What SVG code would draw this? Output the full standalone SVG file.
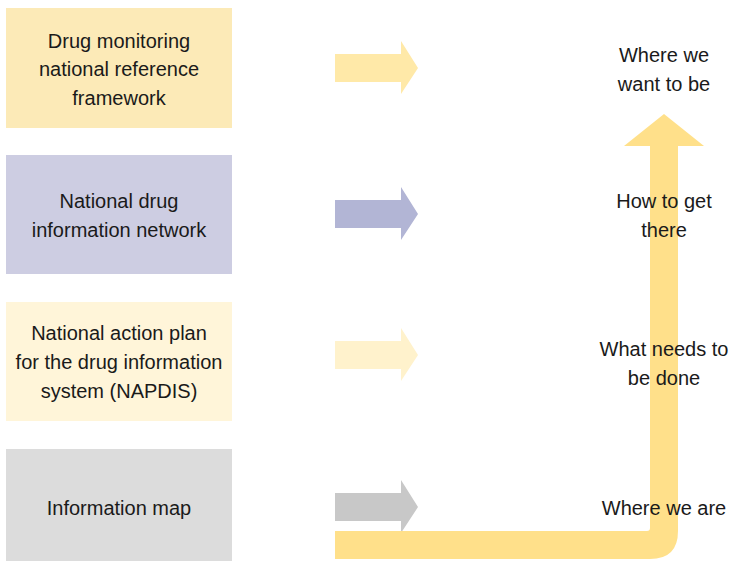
<svg xmlns="http://www.w3.org/2000/svg" width="731" height="562" viewBox="0 0 731 562">
  <style>
    text { font-family: "Liberation Sans", Arial, sans-serif; font-size: 20px; fill: #1a1a1a; text-anchor: middle; }
  </style>
  <defs>
    <!-- block arrow shape, tip at origin-right -->
    <path id="blockArrow" d="M0,-14 H66 V-27 L83,0 L66,26 V14 H0 Z"/>
  </defs>
  <rect width="731" height="562" fill="#ffffff"/>

  <g id="connectors">
    <use href="#blockArrow" x="335" y="68" fill="#FFE9A8"/>
    <use href="#blockArrow" x="335" y="214" fill="#B2B5D5"/>
    <use href="#blockArrow" x="335" y="355" fill="#FFF2CC"/>
    <use href="#blockArrow" x="335" y="507" fill="#C8C8C8"/>
    <!-- progress path: along the bottom, then up to the goal -->
    <path d="M335,531 H647 Q650,531 650,528 V146 H624 L664,114 L704,146 H678 V531 Q678,559 650,559 H335 Z" fill="#FFE08A"/>
  </g>

  <g id="node-framework">
    <rect x="6" y="8" width="226" height="120" fill="#FCEAB7"/>
    <text x="119" y="48">Drug monitoring</text>
    <text x="119" y="76">national reference</text>
    <text x="119" y="105">framework</text>
  </g>
  <g id="node-network">
    <rect x="6" y="155" width="226" height="119" fill="#CDCDE2"/>
    <text x="119" y="208">National drug</text>
    <text x="119" y="237">information network</text>
  </g>
  <g id="node-napdis">
    <rect x="6" y="302" width="226" height="119" fill="#FFF5D9"/>
    <text x="119" y="340">National action plan</text>
    <text x="119" y="369">for the drug information</text>
    <text x="119" y="398">system (NAPDIS)</text>
  </g>
  <g id="node-map">
    <rect x="6" y="449" width="226" height="112" fill="#DCDCDC"/>
    <text x="119" y="515">Information map</text>
  </g>

  <g id="node-goal">
    <text x="664" y="62">Where we</text>
    <text x="664" y="91">want to be</text>
  </g>
  <g id="node-how">
    <text x="664" y="208">How to get</text>
    <text x="664" y="237">there</text>
  </g>
  <g id="node-what">
    <text x="664" y="356">What needs to</text>
    <text x="664" y="385">be done</text>
  </g>
  <g id="node-now">
    <text x="664" y="515">Where we are</text>
  </g>
</svg>
